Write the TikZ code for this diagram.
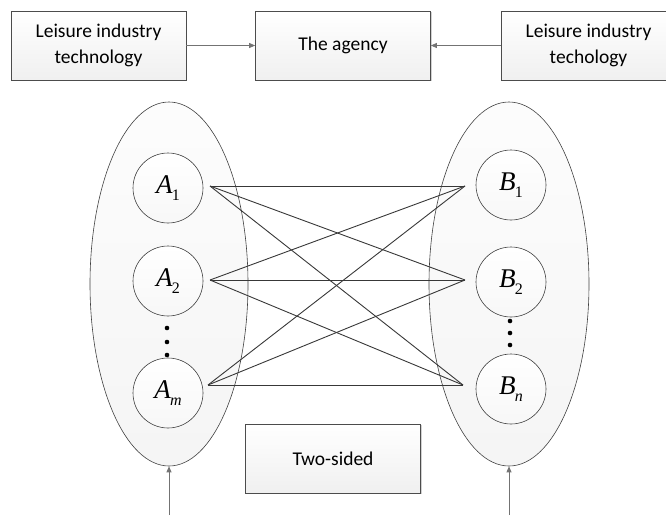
\documentclass[tikz,border=0pt]{standalone}
\usepackage{fontspec}
\setmainfont{Carlito}
\newfontfamily\tnr{Liberation Serif}
\usetikzlibrary{shapes.geometric,arrows.meta,shadows}
% italic letter with a lowered index
\newcommand\idx[2]{{\tnr\itshape #1}\kern-0.03em\raisebox{-0.5ex}{\tnr\fontsize{16}{16}\selectfont #2}}

\begin{document}
\begin{tikzpicture}[x=1pt,y=-1pt,
  box/.style={draw=black!70, line width=0.7pt, top color=white, bottom color=black!6,
    minimum width=175pt, minimum height=69pt, align=center, inner sep=2pt,
    font=\fontsize{19.5}{25.5}\selectfont,
    drop shadow={shadow xshift=1.2pt, shadow yshift=-1.2pt, opacity=0.18, fill=black}},
  group/.style={ellipse, draw=black!75, line width=0.6pt, top color=black!1, bottom color=black!4,
    minimum width=158pt, minimum height=364pt, inner sep=0pt},
  member/.style={circle, draw=black!75, line width=0.6pt, top color=white, bottom color=black!3,
    minimum size=70pt, inner sep=0pt, font=\fontsize{27}{27}\selectfont},
  link/.style={draw=black!78, line width=0.9pt},
  feed/.style={draw=black!55, line width=0.8pt, -{Triangle[length=6pt,width=5pt]}},
  dotmark/.style={circle, fill=black, minimum size=4.6pt, inner sep=0pt}]
\useasboundingbox (0,0) rectangle (666,515);

% top row
\node[box] (tech1) at (98.5,45.5) {Leisure industry\\technology};
\node[box] (agency) at (343,45.5) {The agency};
\node[box] (tech2) at (588.5,45.5) {Leisure industry\\techology};
\draw[feed] (tech1.east) -- (agency.west);
\draw[feed] (tech2.west) -- (agency.east);

% the two sides
\node[group] (sideA) at (169,284) {};
\node[group, minimum width=160pt] (sideB) at (509,284) {};

\node[member] (a1) at (168,188) {\idx{A}{1}};
\node[member] (a2) at (168,281) {\idx{A}{2}};
\node[member] (am) at (168,393) {\idx{A}{\itshape m}};
\node[member] (b1) at (511,185) {\idx{B}{1}};
\node[member] (b2) at (511,282) {\idx{B}{2}};
\node[member] (bn) at (511,389) {\idx{B}{\itshape n}};

\node[dotmark] (ad1) at (167,328) {};
\node[dotmark] (ad2) at (167,342) {};
\node[dotmark] (ad3) at (167,355) {};
\node[dotmark] (bd1) at (510,321) {};
\node[dotmark] (bd2) at (510,333) {};
\node[dotmark] (bd3) at (510,345) {};

% link ends beside each member
\coordinate (pa1) at (210,186);
\coordinate (pa2) at (210,280);
\coordinate (pam) at (208,385);
\coordinate (pb1) at (465,186);
\coordinate (pb2) at (465,280);
\coordinate (pbn) at (463,385);

\foreach \s in {pa1,pa2,pam}
  \foreach \t in {pb1,pb2,pbn}
    \draw[link] (\s) -- (\t);

\node[box] (twosided) at (333,458.5) {Two-sided};

% inputs from below
\coordinate (inA) at (169,515);
\coordinate (inB) at (509,515);
\draw[feed] (inA) -- (sideA.south);
\draw[feed] (inB) -- (sideB.south);
\end{tikzpicture}
\end{document}
